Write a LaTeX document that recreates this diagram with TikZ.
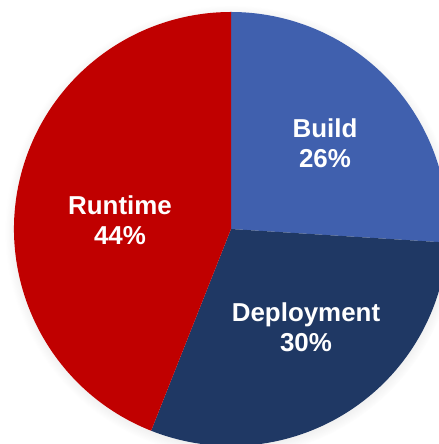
\documentclass[tikz,border=0pt]{standalone}
\usepackage{fontspec}
\setmainfont{Liberation Sans}
\usepackage{tikz}
\usetikzlibrary{shadows,
								calc}
\definecolor{buildblue}{RGB}{64,96,174}
\definecolor{deploynavy}{RGB}{31,56,100}
\definecolor{runtimered}{RGB}{192,0,0}

\begin{document}
\begin{tikzpicture}[x=1bp,y=1bp,
  every node/.style={text=white, align=center, font=\bfseries\fontsize{26}{30}\selectfont},
  slice/.style={draw=none}]
  \useasboundingbox (0,0) rectangle (439,444);
  \coordinate (mitte) at (231,215);

  % Schatten unter der Torte
  \fill[white, circular drop shadow={shadow xshift=0bp, shadow yshift=-2bp, shadow scale=1.04, opacity=0.35}] (mitte) circle (217);

  % Stuecke: 26% / 30% / 44%, im Uhrzeigersinn ab 12 Uhr
  \fill[slice, buildblue]  (mitte) -- ++(90:217)    arc[start angle=90,    end angle=-3.6,   radius=217] -- cycle;
  \fill[slice, deploynavy] (mitte) -- ++(-3.6:217)  arc[start angle=-3.6,  end angle=-111.6, radius=217] -- cycle;
  \fill[slice, runtimered] (mitte) -- ++(-111.6:217) arc[start angle=-111.6, end angle=-270,  radius=217] -- cycle;

  \node (build)   at (325,301) {Build\\26\%};
  \node (deploy)  at (306,117) {Deployment\\30\%};
  \node (runtime) at (120,224) {Runtime\\44\%};
\end{tikzpicture}
\end{document}
